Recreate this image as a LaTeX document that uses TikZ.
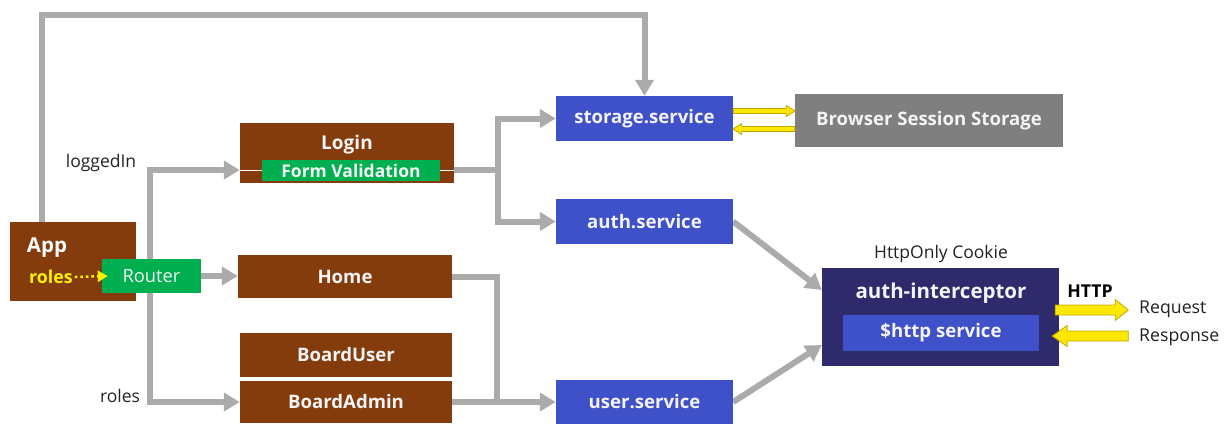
\documentclass[tikz,border=0pt]{standalone}
\usepackage{fontspec}
\setmainfont{Open Sans}
\usetikzlibrary{arrows.meta,calc}
\definecolor{brn}{HTML}{843C0C}
\definecolor{grn}{HTML}{00B050}
\definecolor{blu}{HTML}{3F51C9}
\definecolor{nvy}{HTML}{2F2A6B}
\definecolor{gbox}{HTML}{7F7F7F}
\definecolor{cgray}{HTML}{ABABAB}
\definecolor{yel}{HTML}{FFE800}
\definecolor{yedge}{HTML}{BFA600}
\definecolor{txt}{HTML}{F4F4F4}
\definecolor{lbl}{HTML}{222222}
\pgfdeclarelayer{bg}
\pgfsetlayers{bg,main}
\newcommand\fs[1]{\fontsize{#1}{#1}\selectfont}
\begin{document}
\begin{tikzpicture}[x=1pt,y=-1pt,
  bx/.style={draw=none,inner sep=0pt,text=txt,font=\fs{18.6}\bfseries},
  lb/.style={inner sep=0pt,text=lbl,font=\fs{17.5}},
  cn/.style={draw=cgray,line width=6pt},
  tip/.style={-{Triangle[length=16pt,width=18pt]}},
  btip/.style={{Triangle[length=16pt,width=18pt]}-{Triangle[length=16pt,width=18pt]}},
  ya/.style={fill=yel,draw=yedge,line width=0.8pt,line join=miter}]
\useasboundingbox (0,0) rectangle (1226,423);
% boxes
\node[bx,fill=brn,minimum width=126pt,minimum height=79pt] (app) at (73,261.5) {};
\node[bx,text=white,font=\fs{20.5}\bfseries] (appt) at (47,248) {App};
\node[bx,fill=grn,minimum width=99pt,minimum height=34pt,font=\fs{18.3}] (router) at (151.5,276) {Router};
\node[bx,text=yellow,font=\fs{17.8}\bfseries] (rolesa) at (51,277) {roles};
\node[bx,fill=brn,minimum width=214pt,minimum height=60pt] (login) at (347,153) {};
\node[bx,font=\fs{19}\bfseries] (logint) at (347,145) {Login};
\node[bx,fill=grn,minimum width=178pt,minimum height=21pt,font=\fs{17.5}\bfseries] (formval) at (351,170.5) {Form Validation};
\node[bx,fill=brn,minimum width=214pt,minimum height=43pt] (home) at (345,276.5) {Home};
\node[bx,fill=brn,minimum width=212pt,minimum height=44pt] (buser) at (346,355) {BoardUser};
\node[bx,fill=brn,minimum width=212pt,minimum height=42pt] (badmin) at (346,402) {BoardAdmin};
\node[bx,fill=blu,minimum width=177pt,minimum height=45pt] (storage) at (644.5,118.5) {storage.service};
\node[bx,fill=gbox,minimum width=268pt,minimum height=53pt] (bss) at (929,120.5) {Browser Session Storage};
\node[bx,fill=blu,minimum width=177pt,minimum height=45pt] (auth) at (644.5,221.5) {auth.service};
\node[bx,fill=blu,minimum width=177pt,minimum height=44pt] (user) at (644.5,402) {user.service};
\node[bx,fill=nvy,minimum width=237pt,minimum height=98pt] (ai) at (940.5,317) {};
\node[bx,font=\fs{20.5}\bfseries] (ait) at (941,293) {auth-interceptor};
\node[bx,fill=blu,minimum width=196pt,minimum height=36pt,font=\fs{18.6}\bfseries] (http) at (941,333) {\$http service};
% labels
\node[lb] (logged) at (101,163) {loggedIn};
\node[lb] (rolesb) at (120,396) {roles};
\node[lb] (cookie) at (941,254) {HttpOnly Cookie};
\node[lb,font=\fs{17.7}\bfseries,text=black] (httpl) at (1090,291) {HTTP};
\node[lb,anchor=west,font=\fs{17.7}] (req) at (1139,309) {Request};
\node[lb,anchor=west,font=\fs{17.7}] (resp) at (1139,337) {Response};
% white separator in login
\draw[white,line width=1.5pt] (login.west |- formval.west) -- (formval.west);
\draw[white,line width=1.5pt] (formval.east) -- (login.east |- formval.east);
% roles dotted arrow
\draw[yellow,line width=2.5pt,dash pattern=on 2.5pt off 3pt,-{Triangle[length=10pt,width=11pt]}] (rolesa.east) ++(2,0) -- ([xshift=6pt]router.west);
% connectors
\coordinate (tl) at (42,15);
\coordinate (rt) at (150,170);
\coordinate (rb) at (150,402);
\coordinate (j1) at (498,170);
\coordinate (j2) at (497,402);
\begin{pgfonlayer}{bg}
\draw[cn,tip] (app.north west -| tl) -- (tl) -| (storage.north);
\draw[cn,btip] (rt -| login.west) -- (rt) -- (rb) -- (rb -| badmin.west);
\draw[cn,tip] (router.east) -- (router.east -| home.west);
\draw[cn] (login.east |- j1) -- (j1);
\draw[cn,btip] (storage.west) -| (j1 |- auth.west) -- (auth.west);
\draw[cn] (home.east) -| (j2);
\draw[cn,tip] (badmin.east) -- (user.west);
\draw[cn,tip] (auth.east) -- ([yshift=27pt]ai.west);
\draw[cn,tip] (user.east) -- ([yshift=-28pt]ai.west);
\end{pgfonlayer}
% yellow arrows
\filldraw[ya] ($(storage.east)+(0,-7.5)$) ++(0,-2.5) -- ++(53,0) -- ++(0,-3) -- ++(9,5.5) -- ++(-9,5.5) -- ++(0,-3) -- ++(-53,0) -- cycle;
\filldraw[ya] ($(bss.west)+(0,8.5)$) ++(0,-2.5) -- ++(-53,0) -- ++(0,-3) -- ++(-9,5.5) -- ++(9,5.5) -- ++(0,-3) -- ++(53,0) -- cycle;
\filldraw[ya] ($(ai.east)+(-4,-7)$) ++(0,-5) -- ++(60,0) -- ++(0,-5.5) -- ++(13,10.5) -- ++(-13,10.5) -- ++(0,-5.5) -- ++(-60,0) -- cycle;
\filldraw[ya] ($(ai.east)+(-7,19)$) -- ++(15,-10.5) -- ++(0,5.5) -- ++(61,0) -- ++(0,10) -- ++(-61,0) -- ++(0,5.5) -- cycle;
\end{tikzpicture}
\end{document}
